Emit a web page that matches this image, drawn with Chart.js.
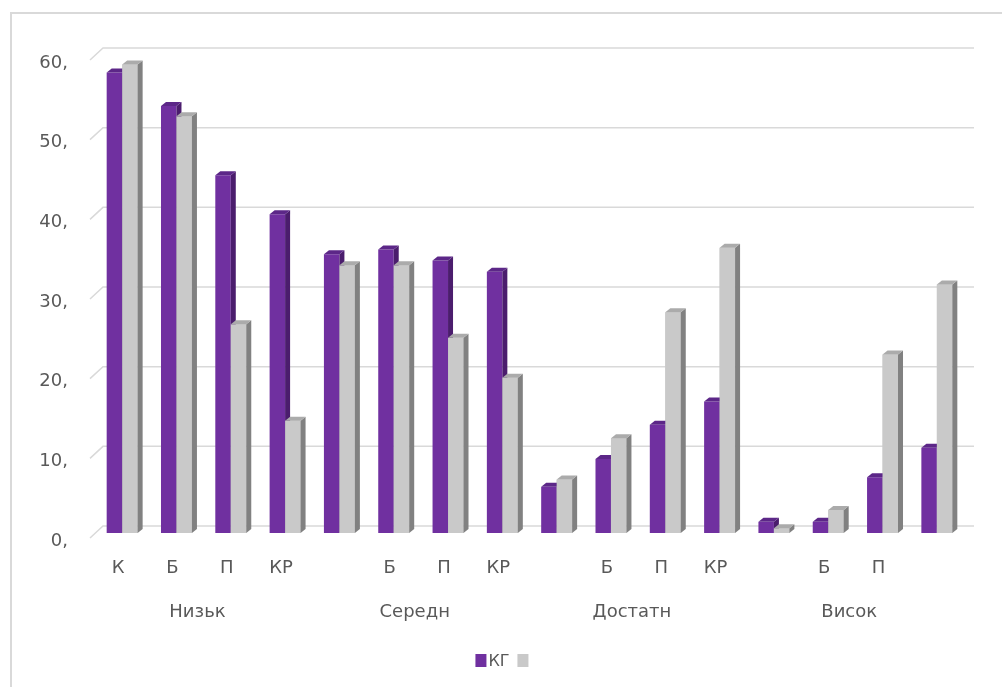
<!DOCTYPE html>
<html>
<head>
<meta charset="utf-8">
<script src="https://cdn.jsdelivr.net/npm/chart.js@4/dist/chart.umd.min.js"></script>
<style>
    html, body { margin: 0; padding: 0; background: #fff; overflow: hidden; }
    #marco {
        position: absolute; left: 10px; top: 12px;
        width: 1100px; height: 800px;
        border-left: 2px solid #d9d9d9; border-top: 2px solid #d9d9d9;
    }
    #grafico { position: absolute; left: 0; top: 0; }
    #leyenda {
        position: absolute; left: 503px; top: 652px;
        transform: translateX(-50%);
        display: flex; align-items: center;
        font: 16px 'DejaVu Sans', sans-serif; color: #595959;
        line-height: 17px; white-space: nowrap;
    }
    #leyenda .cuadro { display: inline-block; width: 11px; height: 13px; }
</style>
</head>
<body>
<div id="marco"></div>
<canvas id="grafico" width="1002" height="687"></canvas>
<div id="leyenda"></div>
<script>
const categorias = ['К', 'Б', 'П', 'КР', '', 'Б', 'П', 'КР', '', 'Б', 'П', 'КР', '', 'Б', 'П', ''];
const grupos = ['Низьк', 'Середн', 'Достатн', 'Висок'];
const valoresKG = [57.8, 53.6, 44.9, 40.0, 35.0, 35.6, 34.2, 32.8, 5.8, 9.3, 13.6, 16.5, 1.4, 1.4, 7.0, 10.7];
const valoresOtro = [58.8, 52.3, 26.2, 14.1, 33.6, 33.6, 24.5, 19.5, 6.7, 11.9, 27.7, 35.8, 0.6, 2.9, 22.4, 31.2];
const ticksY = [0, 10, 20, 30, 40, 50, 60];

// etiquetas de grupo: una cada cuatro categorías, en la segunda posición
const etiquetasGrupo = categorias.map(function (_, i) {
    return i % 4 === 1 ? grupos[(i - 1) / 4] : '';
});

const colores = {
    kg: { frente: '#7030a0', lado: '#4b1d6d', tapa: '#5c2788' },
    otro: { frente: '#c9c9c9', lado: '#818181', tapa: '#ababab' }
};
const prof = { dx: 5, dy: 4 };
const fuente = "'DejaVu Sans', sans-serif";

// lineas del fondo con su diagonal, como en un grafico 3D
const rejillaPlugin = {
    id: 'rejilla3d',
    beforeDatasetsDraw: function (chart) {
        const ctx = chart.ctx;
        const area = chart.chartArea;
        const y = chart.scales.y;
        ctx.save();
        ctx.strokeStyle = '#d9d9d9';
        ctx.lineWidth = 1.5;
        ticksY.forEach(function (v) {
            const py = y.getPixelForValue(v);
            ctx.beginPath();
            ctx.moveTo(area.left - 5, py + 5);
            ctx.lineTo(area.left + 8, py - 7);
            ctx.lineTo(area.right + 10, py - 7);
            ctx.stroke();
        });
        ctx.restore();
    }
};

function caras(ctx, barra, c) {
    const p = barra.getProps(['x', 'y', 'base', 'width'], true);
    const x0 = p.x - p.width / 2;
    const x1 = p.x + p.width / 2;
    // lado derecho
    ctx.fillStyle = c.lado;
    ctx.beginPath();
    ctx.moveTo(x1, p.y);
    ctx.lineTo(x1 + prof.dx, p.y - prof.dy);
    ctx.lineTo(x1 + prof.dx, p.base - prof.dy);
    ctx.lineTo(x1, p.base);
    ctx.closePath();
    ctx.fill();
    // tapa
    ctx.fillStyle = c.tapa;
    ctx.beginPath();
    ctx.moveTo(x0, p.y);
    ctx.lineTo(x0 + prof.dx, p.y - prof.dy);
    ctx.lineTo(x1 + prof.dx, p.y - prof.dy);
    ctx.lineTo(x1, p.y);
    ctx.closePath();
    ctx.fill();
}

const barras3dPlugin = {
    id: 'barras3d',
    afterDatasetsDraw: function (chart) {
        const ctx = chart.ctx;
        const m0 = chart.getDatasetMeta(0).data;
        const m1 = chart.getDatasetMeta(1).data;
        ctx.save();
        m0.forEach(function (b0, i) {
            const b1 = m1[i];
            caras(ctx, b0, colores.kg);
            // la barra gris va delante del lado de la morada
            const p = b1.getProps(['x', 'y', 'base', 'width'], true);
            ctx.fillStyle = colores.otro.frente;
            ctx.fillRect(p.x - p.width / 2, p.y, p.width, p.base - p.y);
            caras(ctx, b1, colores.otro);
        });
        ctx.restore();
    }
};

const grafico = new Chart(document.getElementById('grafico').getContext('2d'), {
    type: 'bar',
    data: {
        labels: categorias,
        datasets: [
            {
                label: 'КГ',
                data: valoresKG,
                backgroundColor: colores.kg.frente,
                categoryPercentage: 0.57,
                barPercentage: 1
            },
            {
                label: '',
                data: valoresOtro,
                backgroundColor: colores.otro.frente,
                categoryPercentage: 0.57,
                barPercentage: 1
            }
        ]
    },
    plugins: [rejillaPlugin, barras3dPlugin],
    options: {
        responsive: false,
        animation: false,
        layout: { padding: { left: 0, right: 38, top: 55, bottom: 41 } },
        scales: {
            y: {
                min: 0,
                max: 60,
                afterFit: function (s) { s.width = 95; },
                grid: { display: false },
                border: { display: false },
                ticks: {
                    stepSize: 10,
                    padding: 19,
                    labelOffset: 8,
                    color: '#595959',
                    font: { family: fuente, size: 18 },
                    callback: function (v) { return v + ','; }
                }
            },
            x: {
                grid: { display: false },
                border: { display: false },
                afterFit: function (s) { s.height = 43; },
                ticks: {
                    autoSkip: false,
                    maxRotation: 0,
                    padding: 17,
                    labelOffset: -4,
                    color: '#595959',
                    font: { family: fuente, size: 18 }
                }
            },
            x2: {
                type: 'category',
                position: 'bottom',
                labels: etiquetasGrupo,
                offset: true,
                grid: { display: false },
                border: { display: false },
                afterFit: function (s) { s.height = 70; },
                ticks: {
                    autoSkip: false,
                    maxRotation: 0,
                    padding: 18,
                    labelOffset: 21,
                    color: '#595959',
                    font: { family: fuente, size: 18 }
                }
            }
        },
        plugins: {
            legend: { display: false },
            tooltip: { enabled: false }
        }
    }
});

// leyenda con los colores y nombres de las series
const leyenda = document.getElementById('leyenda');
grafico.data.datasets.forEach(function (ds, i) {
    const cuadro = document.createElement('span');
    cuadro.className = 'cuadro';
    cuadro.style.background = ds.backgroundColor;
    cuadro.style.marginRight = '2px';
    leyenda.appendChild(cuadro);
    const texto = document.createElement('span');
    texto.textContent = ds.label;
    texto.style.marginRight = i === 0 ? '8px' : '0';
    leyenda.appendChild(texto);
});
</script>
</body>
</html>
